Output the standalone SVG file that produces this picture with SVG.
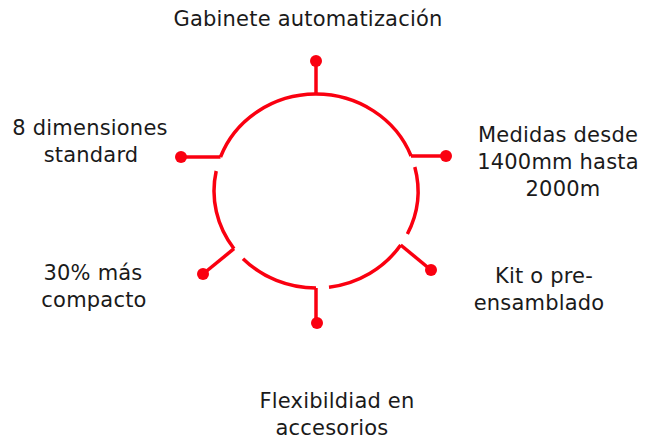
<svg xmlns="http://www.w3.org/2000/svg" width="646" height="440" viewBox="0 0 646 440">
  <style>
    .ring { fill: none; stroke: #fa0010; stroke-width: 3.5; }
    .conn { fill: none; stroke: #fa0010; stroke-width: 3.5; }
    .dot { fill: #fa0010; }
    .lbl { font-family: "DejaVu Sans", "Liberation Sans", sans-serif; font-size: 21px; letter-spacing: 0.2px; fill: #1a1a1a; text-anchor: middle; }
  </style>
  <rect width="646" height="440" fill="#ffffff"/>
  <g id="ring">
    <path class="ring" d="M 220.5 157 A 102 97 0 0 1 411.1 156"/>
    <path class="ring" d="M 414.8 167 A 102 97 0 0 1 407.4 234"/>
    <path class="ring" d="M 400.7 245 A 102 97 0 0 1 329 287.2"/>
    <path class="ring" d="M 316 288 A 102 97 0 0 1 243 258.7"/>
    <path class="ring" d="M 234 248.7 A 102 97 0 0 1 216.2 171"/>
  </g>
  <g id="connectors">
    <path class="conn" d="M 316 94 V 61"/>
    <path class="conn" d="M 220.5 157 H 181"/>
    <path class="conn" d="M 411 156 H 446"/>
    <path class="conn" d="M 400.7 245 L 431 270"/>
    <path class="conn" d="M 234 248.7 L 203 274"/>
    <path class="conn" d="M 316 288 V 323"/>
  </g>
  <g id="node-top">
    <circle class="dot" cx="316" cy="61" r="6"/>
    <text class="lbl" x="308" y="26">Gabinete automatización</text>
  </g>
  <g id="node-left">
    <circle class="dot" cx="181" cy="157" r="6"/>
    <text class="lbl" x="90" y="135">8 dimensiones</text>
    <text class="lbl" x="91" y="162">standard</text>
  </g>
  <g id="node-right">
    <circle class="dot" cx="446" cy="156" r="6"/>
    <text class="lbl" x="558" y="142">Medidas desde</text>
    <text class="lbl" x="558" y="169">1400mm hasta</text>
    <text class="lbl" x="563" y="196">2000m</text>
  </g>
  <g id="node-lower-right">
    <circle class="dot" cx="431" cy="270" r="6"/>
    <text class="lbl" x="544" y="283">Kit o pre-</text>
    <text class="lbl" x="539" y="310">ensamblado</text>
  </g>
  <g id="node-lower-left">
    <circle class="dot" cx="203" cy="274" r="6"/>
    <text class="lbl" x="93" y="280">30% más</text>
    <text class="lbl" x="94" y="307">compacto</text>
  </g>
  <g id="node-bottom">
    <circle class="dot" cx="317" cy="323" r="6"/>
    <text class="lbl" x="337" y="408">Flexibildiad en</text>
    <text class="lbl" x="332" y="435">accesorios</text>
  </g>
</svg>
